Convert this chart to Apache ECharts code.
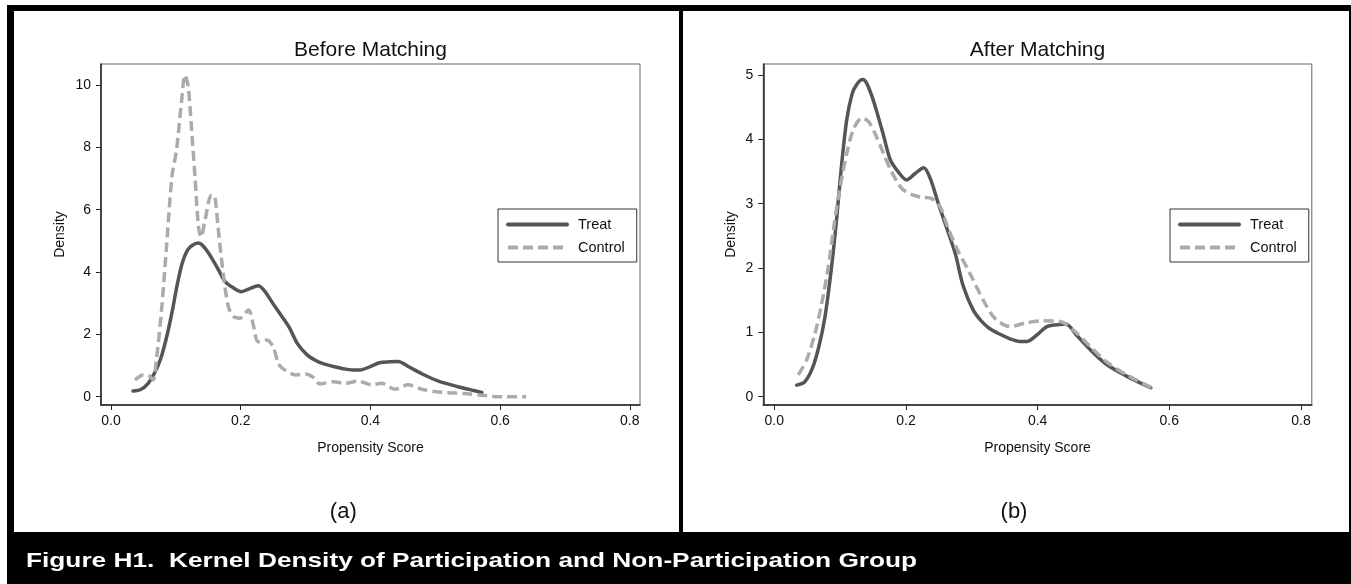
<!DOCTYPE html>
<html>
<head>
<meta charset="utf-8">
<script src="https://cdn.jsdelivr.net/npm/echarts@6/dist/echarts.min.js"></script>
<style>
html,body{margin:0;padding:0;background:#fff;}
#chart{width:1351px;height:584px;}
</style>
</head>
<body>
<div id="chart"></div>
<script>
// ---- data ----
const treatX = [0.034,0.046,0.057,0.067,0.077,0.087,0.095,0.102,0.110,0.118,0.125,0.134,0.140,0.148,0.156,0.166,0.176,0.188,0.201,0.214,0.227,0.237,0.249,0.262,0.275,0.287,0.302,0.315,0.327,0.343,0.358,0.372,0.384,0.399,0.414,0.430,0.443,0.459,0.480,0.505,0.535,0.555,0.572];
const treatY = [0.18,0.23,0.42,0.75,1.24,2.02,2.80,3.58,4.30,4.70,4.85,4.93,4.88,4.68,4.42,4.06,3.69,3.50,3.37,3.47,3.56,3.39,3.01,2.62,2.22,1.72,1.35,1.17,1.06,0.97,0.90,0.86,0.86,0.96,1.09,1.12,1.13,0.96,0.73,0.50,0.32,0.22,0.14];

const beforeControlX = [0.037,0.050,0.058,0.065,0.070,0.078,0.086,0.094,0.101,0.109,0.114,0.119,0.124,0.1295,0.135,0.139,0.145,0.155,0.160,0.165,0.173,0.181,0.189,0.199,0.212,0.220,0.227,0.240,0.250,0.258,0.265,0.285,0.300,0.312,0.322,0.343,0.361,0.381,0.402,0.417,0.438,0.458,0.479,0.502,0.520,0.545,0.570,0.590,0.610,0.640];
const beforeControlY = [0.54,0.70,0.68,0.54,1.18,2.78,4.92,7.06,7.91,9.52,10.32,9.95,8.66,7.06,5.45,5.13,5.67,6.47,6.42,5.45,3.96,2.89,2.57,2.52,2.78,2.25,1.76,1.82,1.60,1.07,0.90,0.70,0.73,0.62,0.41,0.48,0.43,0.50,0.38,0.43,0.24,0.38,0.24,0.16,0.13,0.10,0.05,0.01,0.00,0.00];

const afterControlX = [0.0365,0.049,0.062,0.072,0.082,0.092,0.100,0.110,0.120,0.133,0.143,0.153,0.166,0.178,0.1935,0.209,0.224,0.239,0.252,0.264,0.2775,0.297,0.3175,0.335,0.358,0.383,0.409,0.434,0.454,0.480,0.505,0.535,0.573];
const afterControlY = [0.34,0.57,0.99,1.45,2.02,2.75,3.26,3.78,4.15,4.33,4.28,4.09,3.78,3.50,3.24,3.14,3.10,3.08,2.95,2.62,2.30,1.92,1.50,1.22,1.09,1.15,1.18,1.17,1.04,0.78,0.54,0.34,0.14];

const xTicks = [0, 0.2, 0.4, 0.6, 0.8];
const yTicksBefore = [0, 2, 4, 6, 8, 10];
const yTicksAfter = [0, 1, 2, 3, 4, 5];
const seriesNames = ['Treat', 'Control'];
const panelTitles = ['Before Matching', 'After Matching'];
const panelLabels = ['(a)', '(b)'];
const captionText = 'Figure H1.  Kernel Density of Participation and Non-Participation Group';
const xName = 'Propensity Score';
const yName = 'Density';

// ---- build ----
const FONT = "'Liberation Sans', Arial, Helvetica, sans-serif";
const pairs = (xs, ys) => xs.map((x, i) => [x, ys[i]]);
const TREAT_COLOR = '#555555';
const CONTROL_COLOR = '#ababab';

function xAxisCfg(gi, min, max) {
  return {
    type: 'value', gridIndex: gi, min: min, max: max,
    name: xName, nameLocation: 'middle', nameGap: 36,
    nameTextStyle: {fontFamily: FONT, fontSize: 14, color: '#111'},
    axisLine: {show: true, onZero: false, lineStyle: {color: '#222', width: 1.5}},
    axisTick: {show: true, inside: false, length: 5, customValues: xTicks, lineStyle: {color: '#222', width: 1}},
    axisLabel: {show: true, customValues: xTicks, margin: 9, fontFamily: FONT, fontSize: 14, color: '#111',
      formatter: v => Number(v).toFixed(1)},
    splitLine: {show: false}
  };
}
function yAxisCfg(gi, min, max, ticks, gap) {
  return {
    type: 'value', gridIndex: gi, min: min, max: max,
    name: yName, nameLocation: 'middle', nameRotate: 90, nameGap: gap,
    nameTextStyle: {fontFamily: FONT, fontSize: 14, color: '#111'},
    axisLine: {show: true, onZero: false, lineStyle: {color: '#222', width: 1.5}},
    axisTick: {show: true, inside: false, length: 5, customValues: ticks, lineStyle: {color: '#222', width: 1}},
    axisLabel: {show: true, customValues: ticks, margin: 10, fontFamily: FONT, fontSize: 14, color: '#111',
      formatter: v => String(v)},
    splitLine: {show: false}
  };
}
function lineSeries(name, gi, data, dashed) {
  return {
    name: name, type: 'line', xAxisIndex: gi, yAxisIndex: gi,
    data: data, showSymbol: false, symbol: 'none', smooth: 0.3,
    lineStyle: dashed ? {color: CONTROL_COLOR, width: 3.5, type: [10, 5], cap: 'butt'}
                      : {color: TREAT_COLOR, width: 3.5, cap: 'round'},
    itemStyle: {color: dashed ? CONTROL_COLOR : TREAT_COLOR},
    emphasis: {disabled: true}, animation: false
  };
}
function legendCfg(left) {
  return {
    data: seriesNames, orient: 'vertical', left: left, top: 209,
    itemWidth: 59, itemHeight: 14, itemGap: 8,
    padding: [8, 12, 7, 8],
    borderColor: '#333', borderWidth: 1, backgroundColor: '#fff',
    itemStyle: {opacity: 0, borderWidth: 0},
    lineStyle: {width: 4},
    textStyle: {fontFamily: FONT, fontSize: 14.5, color: '#111', padding: [0, 0, 0, 6]},
    selectedMode: false
  };
}

const option = {
  backgroundColor: '#ffffff',
  animation: false,
  grid: [
    {left: 101, top: 64, width: 539, height: 341, show: true, borderColor: '#666', borderWidth: 1, backgroundColor: '#fff'},
    {left: 763.3, top: 64, width: 548.5, height: 341, show: true, borderColor: '#666', borderWidth: 1, backgroundColor: '#fff'}
  ],
  xAxis: [xAxisCfg(0, -0.0154, 0.8157), xAxisCfg(1, -0.0167, 0.8165)],
  yAxis: [yAxisCfg(0, -0.266, 10.674, yTicksBefore, 34), yAxisCfg(1, -0.129, 5.172, yTicksAfter, 25)],
  legend: [legendCfg(498), legendCfg(1170)],
  series: [
    lineSeries(seriesNames[0], 0, pairs(treatX, treatY), false),
    lineSeries(seriesNames[1], 0, pairs(beforeControlX, beforeControlY), true),
    lineSeries(seriesNames[0], 1, pairs(treatX, treatY), false),
    lineSeries(seriesNames[1], 1, pairs(afterControlX, afterControlY), true)
  ],
  graphic: [
    // frame
    {type: 'rect', shape: {x: 7, y: 5, width: 1344, height: 6}, style: {fill: '#000'}, silent: true},
    {type: 'rect', shape: {x: 7, y: 5, width: 7, height: 579}, style: {fill: '#000'}, silent: true},
    {type: 'rect', shape: {x: 1349, y: 5, width: 2, height: 579}, style: {fill: '#000'}, silent: true},
    {type: 'rect', shape: {x: 679, y: 5, width: 4, height: 528}, style: {fill: '#000'}, silent: true},
    {type: 'rect', shape: {x: 7, y: 532, width: 1344, height: 52}, style: {fill: '#000'}, silent: true},
    // panel titles
    {type: 'text', x: 370.5, y: 50, style: {text: panelTitles[0], fontFamily: FONT, fontSize: 21, fill: '#111', align: 'center', verticalAlign: 'middle'}, silent: true},
    {type: 'text', x: 1037.5, y: 50, style: {text: panelTitles[1], fontFamily: FONT, fontSize: 21, fill: '#111', align: 'center', verticalAlign: 'middle'}, silent: true},
    {type: 'text', x: 343.3, y: 512, style: {text: panelLabels[0], fontFamily: FONT, fontSize: 22, fill: '#111', align: 'center', verticalAlign: 'middle'}, silent: true},
    {type: 'text', x: 1014, y: 512, style: {text: panelLabels[1], fontFamily: FONT, fontSize: 22, fill: '#111', align: 'center', verticalAlign: 'middle'}, silent: true},
    // caption
    {type: 'text', x: 26, y: 561, scaleX: 1.25, style: {text: captionText, fontFamily: FONT, fontSize: 21, fontWeight: 'bold', fill: '#fff', align: 'left', verticalAlign: 'middle'}, silent: true}
  ]
};

const chart = echarts.init(document.getElementById('chart'), null, {renderer: 'canvas'});
chart.setOption(option);
</script>
</body>
</html>
